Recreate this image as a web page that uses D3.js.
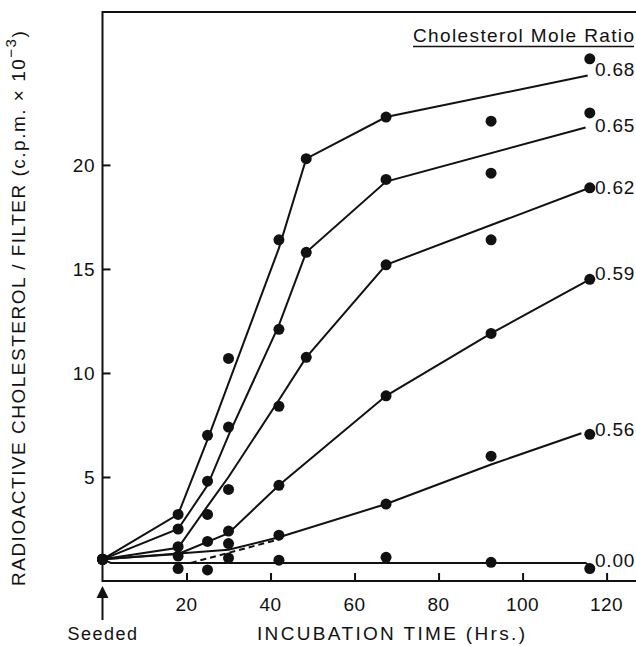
<!DOCTYPE html>
<html><head><meta charset="utf-8">
<script src="https://cdn.jsdelivr.net/npm/d3@7/dist/d3.min.js"></script>
<style>body{margin:0;background:#fff}svg{display:block}text{font-family:"Liberation Sans",Arial,sans-serif;fill:#111}</style>
</head><body><div id="c"></div>
<script>
// Incubation times (hours) at which filters were counted
const times = [0, 18, 25, 30, 42, 48.5, 67.5, 92.5, 116];
// Cholesterol mole ratios (series labels)
const ratios = ["0.68", "0.65", "0.62", "0.59", "0.56", "0.00"];
// Measured points (c.p.m. x 10^-3), null = no point
const pts068 = [1.04, 3.2, 7.0, 10.7, 16.4, 20.3, 22.3, 22.1, 25.1];
const pts065 = [1.04, 2.5, 4.8, 7.4, 12.1, 15.8, 19.3, 19.6, 22.5];
const pts062 = [1.04, 1.65, 3.2, 4.4, 8.4, 10.75, 15.2, 16.4, 18.9];
const pts059 = [1.04, 1.2, 1.9, 2.4, 4.6, null, 8.9, 11.9, 14.5];
const pts056 = [1.04, null, null, 1.8, 2.2, null, 3.7, 6.0, 7.05];
const pts000 = [1.04, 0.6, 0.53, 1.1, 1.0, null, 1.14, 0.9, 0.6];
// Hand-drawn fitted curves [time, value]
const fit068 = [[0,1.04],[18,3.2],[25,6.8],[42,16.0],[48.5,20.3],[67.5,22.3],[115.5,24.3]];
const fit065 = [[0,1.04],[18,2.5],[25,4.6],[30,7.0],[42,12.3],[48.5,15.8],[67.5,19.2],[115,21.8]];
const fit062 = [[0,1.04],[18,1.6],[25,3.6],[30,5.0],[42,8.7],[48.5,10.75],[67.5,15.2],[116,18.9]];
const fit059 = [[0,1.04],[18,1.3],[30,2.3],[42,4.6],[67.5,8.9],[92.5,11.9],[116,14.5]];
const fit056 = [[0,1.04],[30,1.5],[42,2.1],[67.5,3.7],[92.5,5.6],[114,7.1]];
const fit000 = [[0,1.04],[2,0.87],[115,0.87],[117,0.6]];
const dashed056 = [[21,0.87],[42,2.0]];
// Axis ticks
const xTicks = [20, 40, 60, 80, 100, 120];
const yTicks = [5, 10, 15, 20];

const W = 636, H = 646;
const svg = d3.select("#c").append("svg").attr("width", W).attr("height", H);
const x = d3.scaleLinear().domain([0, 127]).range([102.5, 636]);
const y = d3.scaleLinear().domain([0, 27.35]).range([581, 12]);

const pointSets = [pts068, pts065, pts062, pts059, pts056, pts000];
const fits = [fit068, fit065, fit062, fit059, fit056, fit000];

// frame
svg.append("path").attr("d", `M${W},${y(27.35)}H${x(0)}V${y(0)}H${W}`)
  .attr("fill", "none").attr("stroke", "#111").attr("stroke-width", 2);

// y axis (ticks inward)
const yAxis = svg.append("g").attr("transform", `translate(${x(0)},0)`)
  .call(d3.axisRight(y).tickValues(yTicks).tickSize(8).tickFormat(""));
yAxis.select(".domain").remove();
yAxis.selectAll("line").attr("stroke", "#111").attr("stroke-width", 2);
svg.selectAll(".ylab").data(yTicks).join("text").attr("class", "ylab")
  .attr("x", 95).attr("y", d => y(d)).attr("dy", "0.35em").attr("text-anchor", "end")
  .attr("font-size", 19).attr("letter-spacing", 0.5).text(d => d);

// x axis (ticks inward)
const xAxis = svg.append("g").attr("transform", `translate(0,${y(0)})`)
  .call(d3.axisTop(x).tickValues(xTicks).tickSize(8).tickFormat(""));
xAxis.select(".domain").remove();
xAxis.selectAll("line").attr("stroke", "#111").attr("stroke-width", 2);
svg.selectAll(".xlab").data(xTicks).join("text").attr("class", "xlab")
  .attr("x", d => x(d)).attr("y", 604).attr("dy", "0.35em").attr("text-anchor", "middle")
  .attr("font-size", 19).attr("letter-spacing", 0.5).text(d => d);

const line = d3.line().x(d => x(d[0])).y(d => y(d[1]));
svg.selectAll(".fit").data(fits).join("path").attr("class", "fit")
  .attr("d", line).attr("fill", "none").attr("stroke", "#111").attr("stroke-width", 2);
svg.append("path").attr("d", line(dashed056)).attr("fill", "none")
  .attr("stroke", "#111").attr("stroke-width", 2).attr("stroke-dasharray", "6,4");

pointSets.forEach(arr => {
  svg.selectAll(null).data(arr.map((v, i) => [times[i], v]).filter(d => d[1] !== null))
    .join("circle").attr("cx", d => x(d[0])).attr("cy", d => y(d[1])).attr("r", 5.5).attr("fill", "#111");
});

// series labels at right
const labelY = [24.6, 21.9, 18.9, 14.8, 7.3, 1.0];
svg.selectAll(".rl").data(ratios).join("text").attr("class", "rl")
  .attr("x", 595).attr("y", (d, i) => y(labelY[i])).attr("dy", "0.35em")
  .attr("font-size", 19).attr("letter-spacing", 0.8).text(d => d);

// legend title
svg.append("text").attr("x", 413).attr("y", 42).attr("font-size", 19)
  .attr("textLength", 221).attr("lengthAdjust", "spacing").text("Cholesterol Mole Ratio");
svg.append("line").attr("x1", 413).attr("x2", 634).attr("y1", 46.5).attr("y2", 46.5)
  .attr("stroke", "#111").attr("stroke-width", 1.5);

// y label
const yl = svg.append("text").attr("transform", "translate(25,586) rotate(-90)")
  .attr("font-size", 19).attr("letter-spacing", 1.5);
yl.append("tspan").text("RADIOACTIVE CHOLESTEROL / FILTER (c.p.m. × 10");
yl.append("tspan").attr("dy", -9).attr("font-size", 15).text("−3");
yl.append("tspan").attr("dy", 9).text(")");

// x label
svg.append("text").attr("x", 257).attr("y", 640).attr("font-size", 19)
  .attr("textLength", 268).attr("lengthAdjust", "spacing").text("INCUBATION TIME (Hrs.)");
svg.append("text").attr("x", 103).attr("y", 640).attr("text-anchor", "middle")
  .attr("font-size", 18).attr("letter-spacing", 1.5).text("Seeded");
// arrow
svg.append("line").attr("x1", x(0)).attr("x2", x(0)).attr("y1", 620).attr("y2", 596)
  .attr("stroke", "#111").attr("stroke-width", 2);
svg.append("path").attr("d", `M${x(0)},586L${x(0)-6},598L${x(0)+6},598Z`).attr("fill", "#111");
</script></body></html>
